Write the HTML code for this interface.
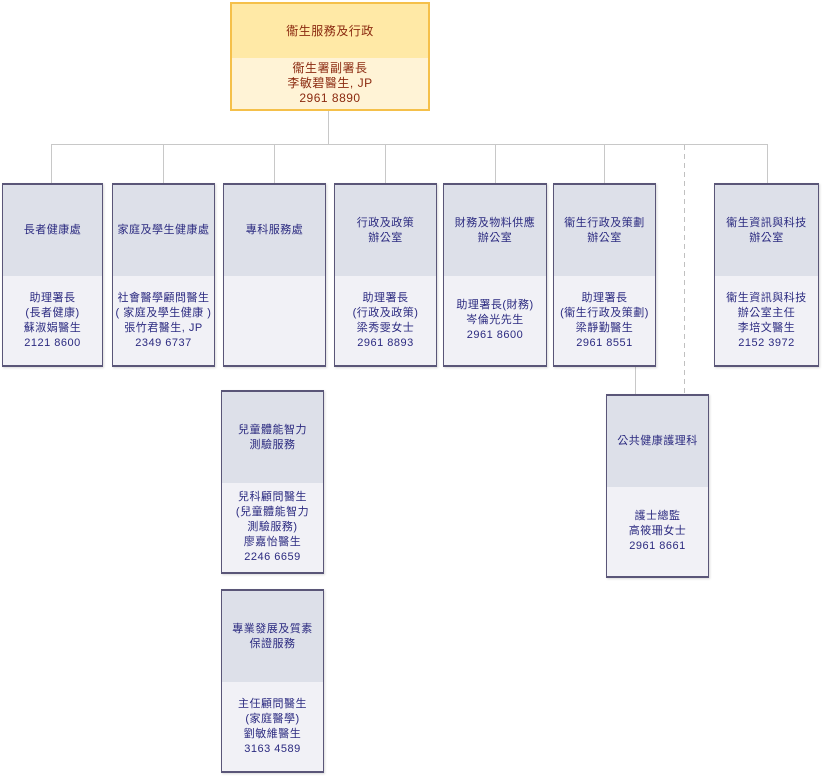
<!DOCTYPE html>
<html><head><meta charset="utf-8"><style>
body{margin:0;width:822px;height:778px;background:#fff;position:relative;overflow:hidden;font-family:"Liberation Sans","Noto Sans CJK TC",sans-serif;font-size:11px;line-height:15px;color:#2b2a80;letter-spacing:0.5px;}
.l{position:absolute;background:#c8c8c8;}
.b{position:absolute;border:1px solid #5a5678;border-top-width:2px;border-bottom-width:2px;box-sizing:border-box;background:#f1f1f6;box-shadow:1px 1px 2px rgba(0,0,0,.15);display:flex;flex-direction:column;}
.h{height:91px;background:#dde0e9;display:flex;align-items:center;justify-content:center;text-align:center;flex:none;}
.c{flex:1;display:flex;align-items:center;justify-content:center;text-align:center;}
.top{position:absolute;left:230px;top:2px;width:200px;height:109px;border:2px solid #f5c04a;box-sizing:border-box;background:#fff3d6;color:#8b2a10;display:flex;flex-direction:column;font-size:12px;}
.top .h{height:54px;background:#ffe9a6;}
</style></head><body>
<div class="l" style="left:328px;top:110px;width:1px;height:35px"></div>
<div class="l" style="left:51px;top:144px;width:717px;height:1px"></div>
<div class="l" style="left:51px;top:144px;width:1px;height:39px"></div>
<div class="l" style="left:163px;top:144px;width:1px;height:39px"></div>
<div class="l" style="left:274px;top:144px;width:1px;height:39px"></div>
<div class="l" style="left:385px;top:144px;width:1px;height:39px"></div>
<div class="l" style="left:495px;top:144px;width:1px;height:39px"></div>
<div class="l" style="left:604px;top:144px;width:1px;height:39px"></div>
<div class="l" style="left:767px;top:144px;width:1px;height:39px"></div>
<div style="position:absolute;left:684px;top:145px;width:0;height:250px;background:repeating-linear-gradient(to bottom,#c0c0c0 0 5px,transparent 5px 9px);border-left:1px solid transparent;"></div>
<div style="position:absolute;left:684px;top:145px;width:1px;height:250px;background:repeating-linear-gradient(to bottom,#c0c0c0 0 5px,transparent 5px 9px)"></div>
<div class="l" style="left:635px;top:366px;width:1px;height:28px"></div>

<div class="top"><div class="h">衞生服務及行政</div><div class="c">衞生署副署長<br>李敏碧醫生, JP<br>2961 8890</div></div>

<div class="b" style="left:2px;top:183px;width:101px;height:184px"><div class="h">長者健康處</div><div class="c">助理署長<br>(長者健康)<br>蘇淑娟醫生<br>2121 8600</div></div>
<div class="b" style="left:112px;top:183px;width:103px;height:184px"><div class="h">家庭及學生健康處</div><div class="c">社會醫學顧問醫生<br>( 家庭及學生健康 )<br>張竹君醫生, JP<br>2349 6737</div></div>
<div class="b" style="left:223px;top:183px;width:103px;height:184px"><div class="h">專科服務處</div><div class="c"></div></div>
<div class="b" style="left:334px;top:183px;width:103px;height:184px"><div class="h">行政及政策<br>辦公室</div><div class="c">助理署長<br>(行政及政策)<br>梁秀雯女士<br>2961 8893</div></div>
<div class="b" style="left:443px;top:183px;width:104px;height:184px"><div class="h">財務及物料供應<br>辦公室</div><div class="c">助理署長(財務)<br>岑倫光先生<br>2961 8600</div></div>
<div class="b" style="left:553px;top:183px;width:103px;height:184px"><div class="h">衞生行政及策劃<br>辦公室</div><div class="c">助理署長<br>(衞生行政及策劃)<br>梁靜勤醫生<br>2961 8551</div></div>
<div class="b" style="left:714px;top:183px;width:105px;height:184px"><div class="h">衞生資訊與科技<br>辦公室</div><div class="c">衞生資訊與科技<br>辦公室主任<br>李培文醫生<br>2152 3972</div></div>

<div class="b" style="left:221px;top:390px;width:103px;height:184px"><div class="h">兒童體能智力<br>測驗服務</div><div class="c">兒科顧問醫生<br>(兒童體能智力<br>測驗服務)<br>廖嘉怡醫生<br>2246 6659</div></div>
<div class="b" style="left:221px;top:589px;width:103px;height:184px"><div class="h">專業發展及質素<br>保證服務</div><div class="c">主任顧問醫生<br>(家庭醫學)<br>劉敏維醫生<br>3163 4589</div></div>
<div class="b" style="left:606px;top:394px;width:103px;height:184px"><div class="h">公共健康護理科</div><div class="c">護士總監<br>高筱珊女士<br>2961 8661</div></div>
</body></html>
